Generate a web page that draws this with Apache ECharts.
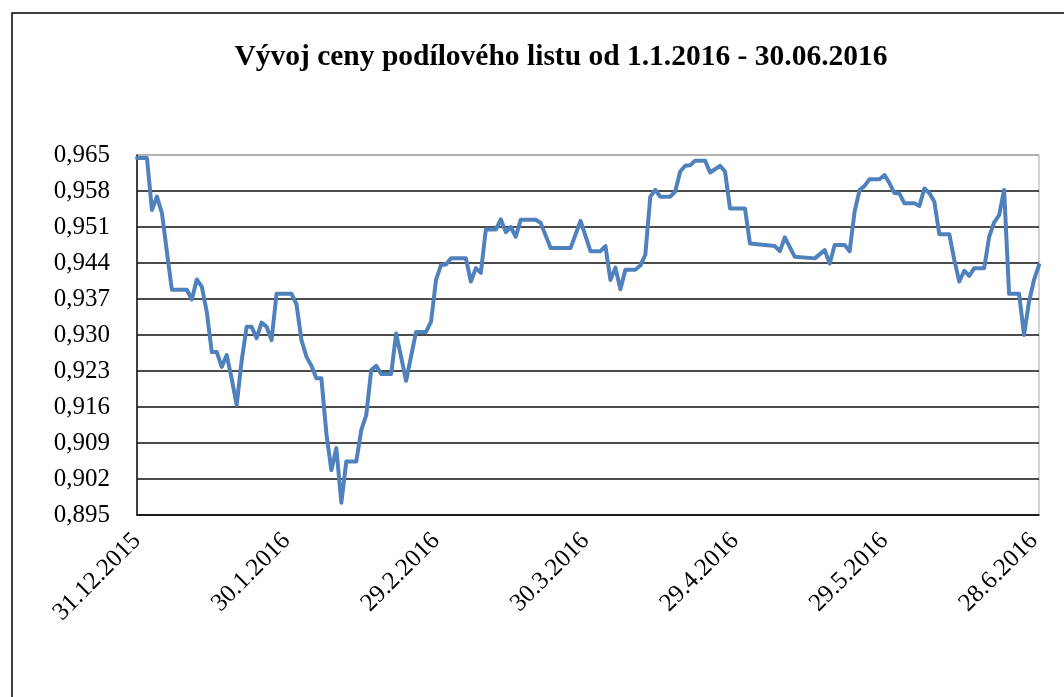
<!DOCTYPE html>
<html>
<head>
<meta charset="utf-8">
<script src="https://cdn.jsdelivr.net/npm/echarts@6/dist/echarts.min.js"></script>
<style>
  html, body { margin: 0; padding: 0; background: #fff; }
  #chart { width: 1064px; height: 697px; }
</style>
</head>
<body>
<div id="chart"></div>
<script>
// Fund unit price, first half of 2016
const titleText = 'Vývoj ceny podílového listu od 1.1.2016 - 30.06.2016';
const startDate = [2015, 12, 31];           // day 0 of the x axis
const lastDay = 181;                         // 29.6.2016
const yTicks = { min: 0.895, max: 0.965, step: 0.007 };

// days after 31.12.2015
const dayOffset = [
  0, 2, 3, 4, 5, 6, 7, 10, 11, 12, 13, 14, 15, 16, 17, 18, 19, 20, 21, 22,
  23, 24, 25, 26, 27, 28, 31, 32, 33, 34, 35, 36, 37, 38, 39, 40, 41, 42, 44, 45,
  46, 47, 48, 49, 51, 52, 54, 56, 58, 59, 60, 61, 62, 63, 66, 67, 68, 69, 70, 72,
  73, 74, 75, 76, 77, 80, 81, 83, 87, 89, 91, 93, 94, 95, 96, 97, 98, 100, 101, 102,
  103, 104, 105, 107, 108, 109, 110, 111, 112, 114, 115, 117, 118, 119, 122, 123, 128, 129, 130, 132,
  136, 138, 139, 140, 142, 143, 144, 145, 146, 147, 149, 150, 151, 152, 153, 154, 156, 157, 158, 159,
  160, 161, 163, 164, 165, 166, 167, 168, 170, 171, 172, 173, 174, 175, 177, 178, 179, 180, 181
];

// unit price (CZK)
const price = [
  0.9644, 0.9644, 0.9543, 0.9569, 0.9537, 0.9462, 0.9388, 0.9388, 0.9369, 0.9408, 0.9394, 0.9345, 0.9267, 0.9267, 0.9238, 0.9261, 0.9215, 0.9164, 0.9250, 0.9316,
  0.9316, 0.9294, 0.9324, 0.9316, 0.9290, 0.9380, 0.9380, 0.9360, 0.9290, 0.9258, 0.9240, 0.9216, 0.9216, 0.9109, 0.9037, 0.9080, 0.8974, 0.9054, 0.9054, 0.9115,
  0.9144, 0.9232, 0.9240, 0.9224, 0.9224, 0.9303, 0.9211, 0.9306, 0.9306, 0.9326, 0.9407, 0.9436, 0.9437, 0.9449, 0.9449, 0.9404, 0.9430, 0.9421, 0.9505, 0.9505,
  0.9525, 0.9500, 0.9510, 0.9491, 0.9524, 0.9524, 0.9518, 0.9469, 0.9469, 0.9522, 0.9463, 0.9463, 0.9473, 0.9407, 0.9431, 0.9389, 0.9427, 0.9427, 0.9435, 0.9456,
  0.9569, 0.9582, 0.9569, 0.9569, 0.9579, 0.9618, 0.9629, 0.9630, 0.9639, 0.9639, 0.9616, 0.9629, 0.9618, 0.9546, 0.9546, 0.9478, 0.9473, 0.9463, 0.9490, 0.9452,
  0.9449, 0.9465, 0.9439, 0.9475, 0.9475, 0.9463, 0.9540, 0.9582, 0.9590, 0.9603, 0.9603, 0.9611, 0.9595, 0.9576, 0.9575, 0.9556, 0.9556, 0.9551, 0.9585, 0.9576,
  0.9559, 0.9496, 0.9496, 0.9446, 0.9404, 0.9425, 0.9415, 0.9430, 0.9430, 0.9491, 0.9519, 0.9533, 0.9582, 0.9380, 0.9380, 0.9300, 0.9365, 0.9407, 0.9436
];

const serif = '"Liberation Serif", "Times New Roman", serif';
const day0 = Date.UTC(startDate[0], startDate[1] - 1, startDate[2]);

function dayLabel(offset) {
  const d = new Date(day0 + Math.round(offset) * 86400000);
  return d.getUTCDate() + '.' + (d.getUTCMonth() + 1) + '.' + d.getUTCFullYear();
}

// horizontal grid lines: dark, except the grey top edge of the plot
const gridLineCount = Math.round((yTicks.max - yTicks.min) / yTicks.step) + 1;
const gridColors = [];
for (let i = 0; i < gridLineCount; i++) {
  gridColors.push(i === gridLineCount - 1 ? '#a6a6a6' : '#111111');
}

const chart = echarts.init(document.getElementById('chart'), null, { renderer: 'canvas' });

chart.setOption({
  backgroundColor: '#ffffff',
  animation: false,
  graphic: [{
    type: 'rect',
    shape: { x: 12, y: 13, width: 1070, height: 700 },
    style: { fill: 'none', stroke: '#000', lineWidth: 1.5 },
    silent: true
  }, {
    // chart title, centred over the plot area
    type: 'text',
    x: 561,
    y: 57,
    style: {
      text: titleText,
      fontFamily: serif,
      fontWeight: 'bold',
      fontSize: 29.5,
      fill: '#000',
      align: 'center',
      verticalAlign: 'middle'
    },
    silent: true
  }],
  grid: {
    left: 137, top: 155, width: 902, height: 360,
    show: true, borderColor: '#a6a6a6', borderWidth: 1, backgroundColor: 'transparent'
  },
  xAxis: {
    type: 'value',
    min: 0,
    max: lastDay,
    interval: 30,
    axisLine: { show: true, onZero: false, lineStyle: { color: '#111', width: 1.5 } },
    axisTick: { show: false },
    splitLine: { show: false },
    axisLabel: {
      rotate: 45,
      margin: 22,
      showMaxLabel: false,
      fontFamily: serif,
      fontSize: 25,
      color: '#000',
      formatter: dayLabel
    }
  },
  yAxis: {
    type: 'value',
    min: yTicks.min,
    max: yTicks.max,
    interval: yTicks.step,
    axisLine: { show: true, lineStyle: { color: '#111', width: 1.5 } },
    axisTick: { show: false },
    splitLine: { show: true, lineStyle: { color: gridColors, width: 1.5 } },
    axisLabel: {
      margin: 27,
      fontFamily: serif,
      fontSize: 25,
      color: '#000',
      formatter: v => v.toFixed(3).replace('.', ',')
    }
  },
  series: [{
    type: 'line',
    data: dayOffset.map((d, i) => [d, price[i]]),
    showSymbol: false,
    lineStyle: { color: '#4f81bd', width: 4, join: 'round', cap: 'round' },
    z: 3
  }]
});
</script>
</body>
</html>
